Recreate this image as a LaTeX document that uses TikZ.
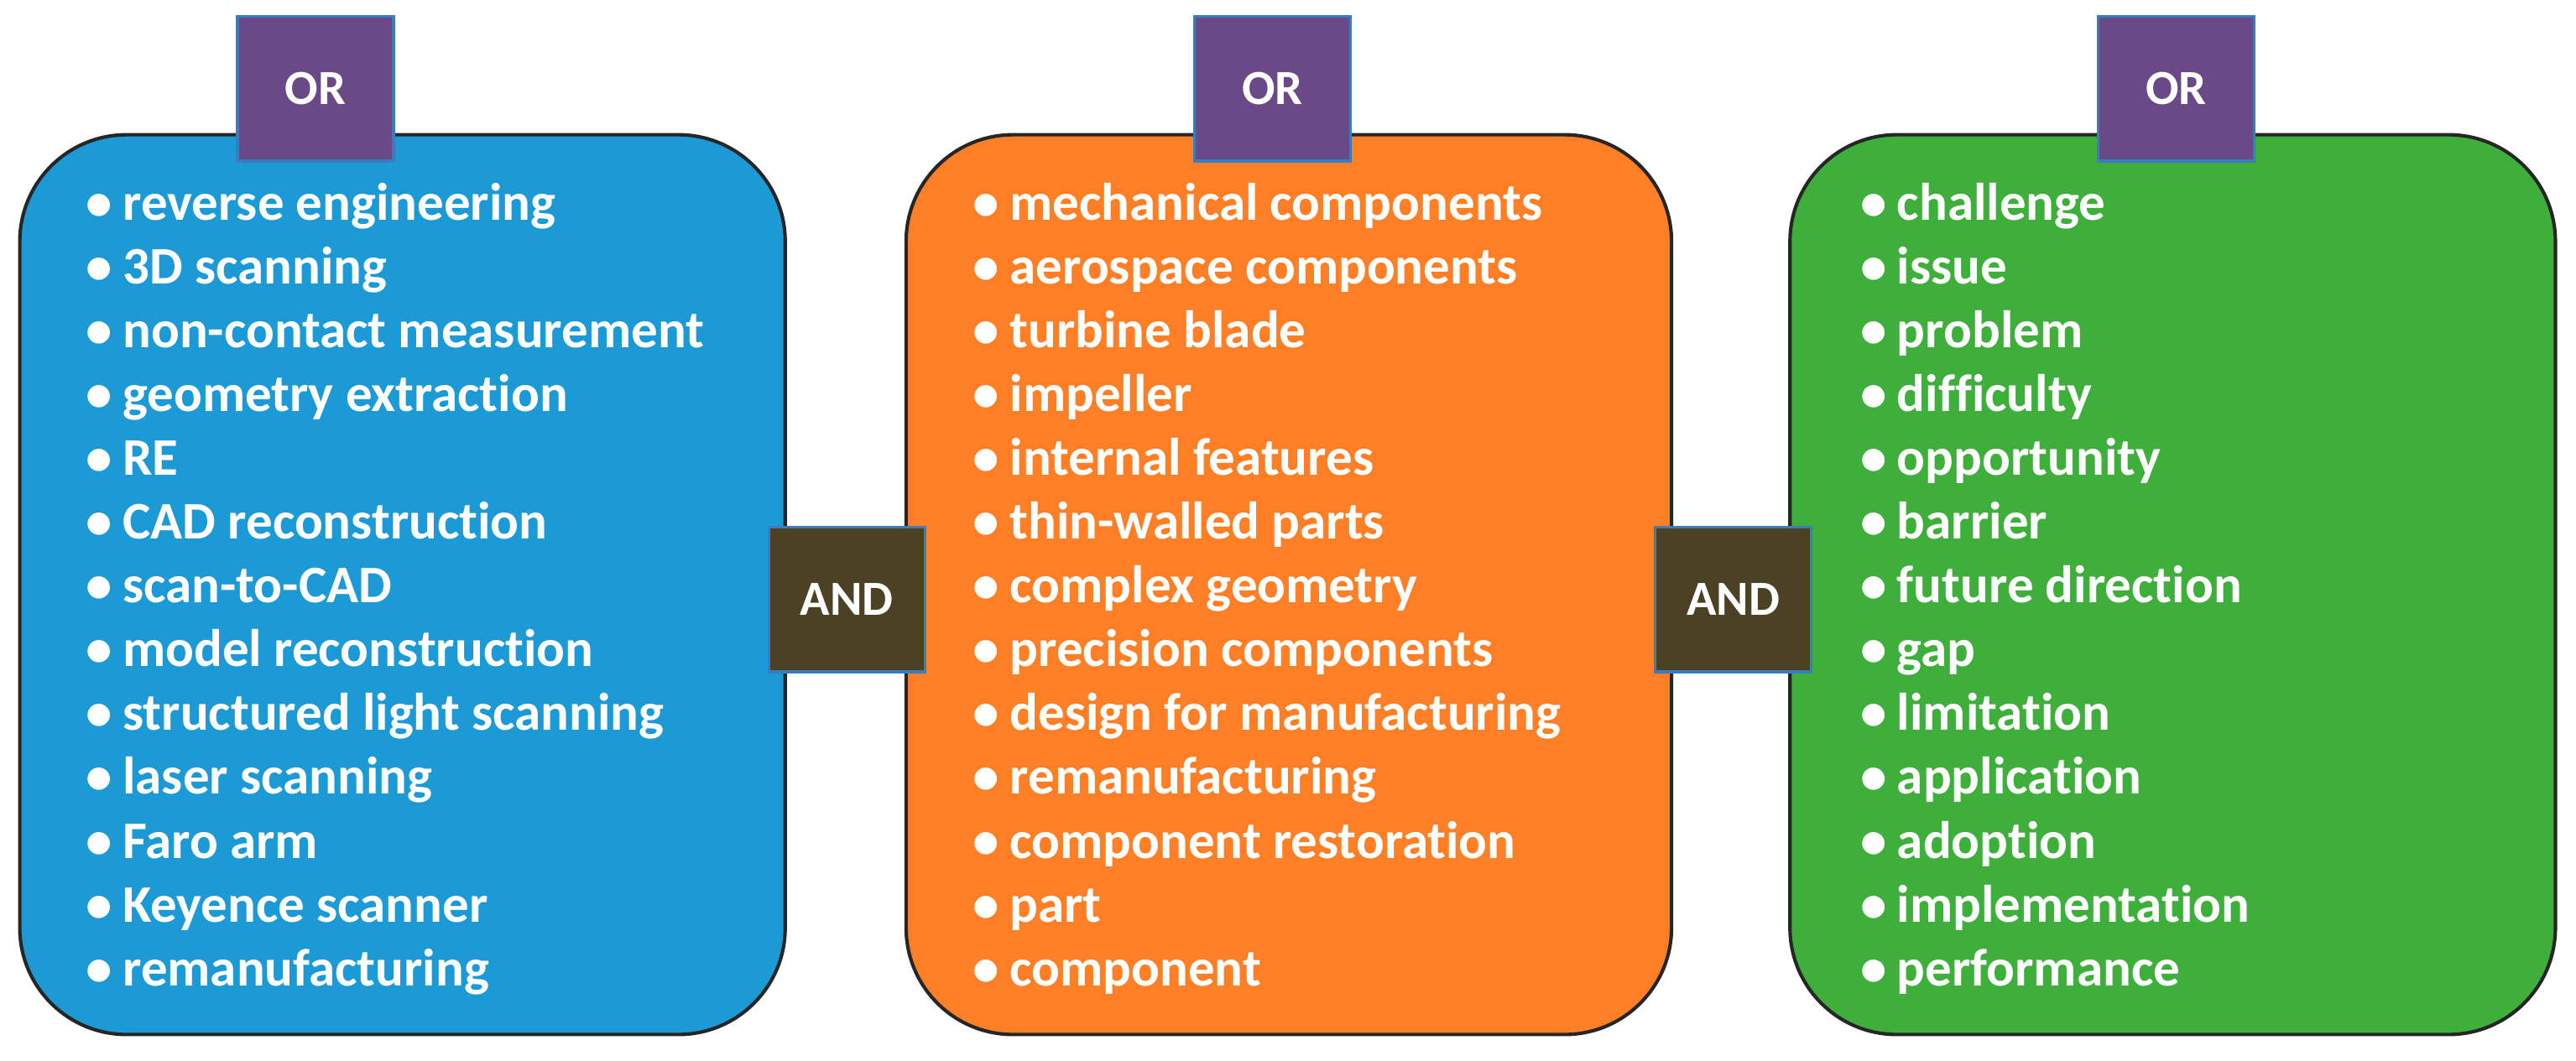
\documentclass[tikz,border=0pt]{standalone}
\usepackage{fontspec}
\setmainfont{Carlito}[Ligatures=NoCommon]
\definecolor{boxblue}{HTML}{1B9AD6}
\definecolor{boxorange}{HTML}{FF7F27}
\definecolor{boxgreen}{HTML}{3FAF3C}
\definecolor{orpurple}{HTML}{6A4A86}
\definecolor{orline}{HTML}{3B7CC0}
\definecolor{andbrown}{HTML}{4B4226}
\tikzset{
  termbox/.style={draw=black!85, line width=1.2pt, rounded corners=1.3cm,
    minimum width=9.32cm, minimum height=10.96cm, inner sep=0pt},
  opbox/.style={draw=orline, line width=1pt, text=white, font=\bfseries\fontsize{17}{20}\selectfont,
    minimum width=1.9cm, minimum height=1.76cm, inner sep=0pt},
  term/.style={anchor=base west, text=white, inner sep=0pt, font=\bfseries\fontsize{18.3}{21}\selectfont}
}
\begin{document}
\begin{tikzpicture}[x=0.02cm,y=-0.02cm]
\useasboundingbox (0,0) rectangle (1568,646);
% search blocks
\node [termbox, fill=boxblue] (methods) at (245,356) {};
\node [termbox, fill=boxorange] (parts) at (784.5,356) {};
\node [termbox, fill=boxgreen] (issues) at (1322.5,356) {};
% terms
\foreach \t [count=\i] in {reverse engineering, 3D scanning, non-contact measurement,
  geometry extraction, RE, CAD reconstruction, scan-to-CAD, model reconstruction,
  structured light scanning, laser scanning, Faro arm, Keyence scanner, remanufacturing}
  \node [term] (m\i) at (52,{134+(\i-1)*38.85}) {\textbullet\hspace{0.2em}\t};
\foreach \t [count=\i] in {mechanical components, aerospace components, turbine blade,
  impeller, internal features, thin-walled parts, complex geometry, precision components,
  design for manufacturing, remanufacturing, component restoration, part, component}
  \node [term] (p\i) at (592,{134+(\i-1)*38.85}) {\textbullet\hspace{0.2em}\t};
\foreach \t [count=\i] in {challenge, issue, problem, difficulty, opportunity, barrier,
  future direction, gap, limitation, application, adoption, implementation, performance}
  \node [term] (c\i) at (1132,{134+(\i-1)*38.85}) {\textbullet\hspace{0.2em}\t};
% operators
\node [opbox, fill=andbrown] (and1) at (515.5,365) {AND};
\node [opbox, fill=andbrown] (and2) at (1055,365) {AND};
\node [opbox, fill=orpurple] (or1) at (192,54) {OR};
\node [opbox, fill=orpurple] (or2) at (774.5,54) {OR};
\node [opbox, fill=orpurple] (or3) at (1324.5,54) {OR};
\end{tikzpicture}
\end{document}
